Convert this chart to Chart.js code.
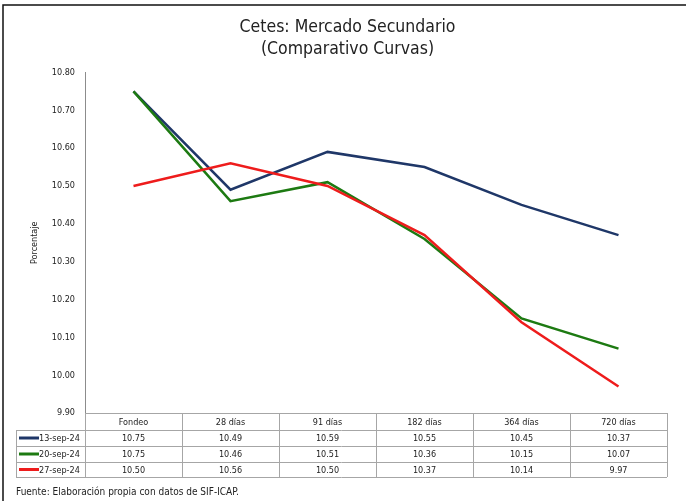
<!DOCTYPE html>
<html>
<head>
<meta charset="utf-8">
<script src="https://cdn.jsdelivr.net/npm/chart.js@4.4.1/dist/chart.umd.min.js"></script>
<style>
  html, body { margin: 0; padding: 0; background: #fff; }
  #wrap { width: 686px; height: 501px; position: relative; }
</style>
</head>
<body>
<div id="wrap"><canvas id="c" width="686" height="501"></canvas></div>
<script>
// Plazos de la curva de Cetes
const plazos = ['Fondeo', '28 días', '91 días', '182 días', '364 días', '720 días'];

// Fechas comparadas
const fechas = ['13-sep-24', '20-sep-24', '27-sep-24'];

// Tasas por fecha (%)
const tasas13sep = [10.75, 10.49, 10.59, 10.55, 10.45, 10.37];
const tasas20sep = [10.75, 10.46, 10.51, 10.36, 10.15, 10.07];
const tasas27sep = [10.50, 10.56, 10.50, 10.37, 10.14, 9.97];

// Escala del eje vertical
const yMin = 9.90;
const yMax = 10.80;
const yPaso = 0.10;

const colores = ['#1f3768', '#1d7a12', '#ee1c1c'];
const FONT = '"DejaVu Sans Condensed", "DejaVu Sans", sans-serif';

// Marco, tabla de datos y nota de fuente
const tablaPlugin = {
  id: 'tabla',
  beforeDraw(chart) {
    const ctx = chart.ctx;
    ctx.save();
    ctx.fillStyle = '#fff';
    ctx.fillRect(0, 0, chart.width, chart.height);
    ctx.strokeStyle = '#111';
    ctx.lineWidth = 1.5;
    ctx.beginPath();
    ctx.moveTo(3, chart.height);
    ctx.lineTo(3, 5);
    ctx.lineTo(chart.width, 5);
    ctx.stroke();
    ctx.restore();
  },
  afterDraw(chart) {
    const ctx = chart.ctx;
    const x = chart.scales.x;
    const area = chart.chartArea;
    const half = (x.getPixelForValue(1) - x.getPixelForValue(0)) / 2;
    const left = area.left, right = area.right;
    const legLeft = 16;
    const top = area.bottom;
    const rowsY = [top, top + 17, top + 33, top + 49, top + 64];
    const series = chart.data.datasets;

    ctx.save();
    ctx.strokeStyle = '#a6a6a6';
    ctx.lineWidth = 1;
    ctx.beginPath();
    // líneas horizontales
    rowsY.forEach((y, i) => {
      const xs = i === 0 ? left : legLeft;
      ctx.moveTo(xs, Math.round(y) + 0.5);
      ctx.lineTo(right, Math.round(y) + 0.5);
    });
    // líneas verticales
    ctx.moveTo(legLeft + 0.5, rowsY[1]);
    ctx.lineTo(legLeft + 0.5, rowsY[4]);
    for (let i = 0; i <= plazos.length; i++) {
      const px = Math.round(left + i * half * 2) + 0.5;
      ctx.moveTo(px, rowsY[0]);
      ctx.lineTo(px, rowsY[4]);
    }
    ctx.stroke();

    ctx.fillStyle = '#222';
    ctx.font = '9px ' + FONT;
    ctx.textAlign = 'center';
    ctx.textBaseline = 'middle';
    plazos.forEach((p, i) => {
      ctx.fillText(p, x.getPixelForValue(i), (rowsY[0] + rowsY[1]) / 2 + 1);
    });
    series.forEach((ds, r) => {
      const cy = (rowsY[r + 1] + rowsY[r + 2]) / 2 + 1;
      ds.data.forEach((v, i) => {
        ctx.fillText(v.toFixed(2), x.getPixelForValue(i), cy);
      });
      // muestra de la serie
      ctx.strokeStyle = ds.borderColor;
      ctx.lineWidth = 3;
      ctx.beginPath();
      ctx.moveTo(legLeft + 3, cy - 1);
      ctx.lineTo(legLeft + 23, cy - 1);
      ctx.stroke();
      ctx.textAlign = 'left';
      ctx.fillText(ds.label, legLeft + 23, cy);
      ctx.textAlign = 'center';
    });

    ctx.textAlign = 'left';
    ctx.font = '10px ' + FONT;
    ctx.fillText('Fuente: Elaboración propia con datos de SIF-ICAP.', 16, 492);
    ctx.restore();
  }
};

new Chart(document.getElementById('c'), {
  type: 'line',
  data: {
    labels: plazos,
    datasets: [
      { label: fechas[0], data: tasas13sep, borderColor: colores[0], order: 2 },
      { label: fechas[1], data: tasas20sep, borderColor: colores[1], order: 1 },
      { label: fechas[2], data: tasas27sep, borderColor: colores[2], order: 0 }
    ].map(d => Object.assign(d, { borderWidth: 2.5, pointRadius: 0, tension: 0, fill: false }))
  },
  options: {
    responsive: false,
    animation: false,
    layout: { padding: { left: 28, right: 19, top: 0, bottom: 88 } },
    plugins: {
      legend: { display: false },
      tooltip: { enabled: false },
      title: {
        display: true,
        text: ['Cetes: Mercado Secundario', '(Comparativo Curvas)'],
        color: '#222',
        font: { family: FONT, size: 17.5, weight: 'normal', lineHeight: 1.27 },
        padding: { top: 16, bottom: 12 }
      }
    },
    scales: {
      x: {
        display: false,
        offset: true
      },
      y: {
        min: yMin,
        max: yMax,
        afterFit(scale) { scale.width = 57; },
        ticks: {
          stepSize: yPaso,
          padding: 10,
          color: '#222',
          font: { family: FONT, size: 9 },
          callback: v => Number(v).toFixed(2)
        },
        grid: { display: false, drawTicks: false },
        border: { display: true, color: '#8c8c8c', width: 1 },
        title: {
          display: true,
          text: 'Porcentaje',
          color: '#222',
          font: { family: FONT, size: 9 },
          padding: { top: 1, bottom: 0 }
        }
      }
    }
  },
  plugins: [tablaPlugin]
});
</script>
</body>
</html>
